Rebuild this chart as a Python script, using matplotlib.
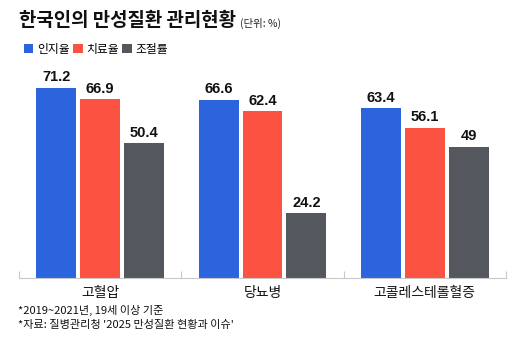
import matplotlib
matplotlib.use("Agg")
import matplotlib.pyplot as plt
import numpy as np

plt.rcParams['font.family'] = ['Noto Sans CJK KR', 'DejaVu Sans']

categories = ["고혈압", "당뇨병", "고콜레스테롤혈증"]
series_names = ["인지율", "치료율", "조절률"]
awareness = [71.2, 66.6, 63.4]
treatment = [66.9, 62.4, 56.1]
control = [50.4, 24.2, 49]
value_labels = [["71.2", "66.6", "63.4"], ["66.9", "62.4", "56.1"], ["50.4", "24.2", "49"]]
colors = ["#2c64dd", "#fc5242", "#55575f"]

fig = plt.figure(figsize=(5.30, 3.63), dpi=100)
ax = fig.add_axes([19/530, 1-278/363, (506-19)/530, 214/363])

x = np.arange(len(categories))
bw = 0.245
step = 0.27
series = [awareness, treatment, control]
handles = []
for i, (vals, col, name) in enumerate(zip(series, colors, series_names)):
    bars = ax.bar(x + (i-1)*step, vals, width=bw, color=col, label=name, zorder=2)
    handles.append(bars)
    for b, lab in zip(bars, value_labels[i]):
        ax.annotate(lab, (b.get_x()+b.get_width()/2, b.get_height()),
                    xytext=(0, 2.5), textcoords="offset points",
                    ha="center", va="bottom", fontsize=10.5, color="#111111",
                    family=['Liberation Sans', 'DejaVu Sans'], fontweight='bold')

ax.set_xlim(-0.5, 2.5)
ax.set_ylim(0, 80)
for s in ["top", "right", "left"]:
    ax.spines[s].set_visible(False)
ax.spines["bottom"].set_color("#c8c8c8")
ax.spines["bottom"].set_linewidth(0.8)
ax.set_yticks([])
ax.set_xticks(x)
ax.set_xticklabels(categories, fontsize=10, color="#111111")
ax.tick_params(axis="x", which="major", length=0, pad=6)
ax.set_xticks([-0.5, 0.5, 1.5, 2.5], minor=True)
ax.tick_params(axis="x", which="minor", direction="in", length=5, color="#c8c8c8", width=0.8)

fig.text(19/530, 1-21/363, "한국인의 만성질환 관리현황", fontsize=13.6, fontweight="heavy",
         va="center", ha="left", color="#111111")
fig.text(240/530, 1-23/363, "(단위: %)", fontsize=7.5, va="center", ha="left", color="#222222")

fig.legend(handles=handles, labels=series_names, loc="center left",
           bbox_to_anchor=(24/530, 1-49/363), ncol=3, frameon=False,
           fontsize=8.5, handlelength=0.8, handleheight=0.8, handletextpad=0.3,
           columnspacing=0.3, borderaxespad=0, borderpad=0)

fig.text(18/530, 1-310/363, "*2019~2021년, 19세 이상 기준", fontsize=8, va="center", ha="left", color="#111111")
fig.text(18/530, 1-325/363, "*자료: 질병관리청 '2025 만성질환 현황과 이슈'", fontsize=8, va="center", ha="left", color="#111111")

fig.savefig("out.png", dpi=100)
